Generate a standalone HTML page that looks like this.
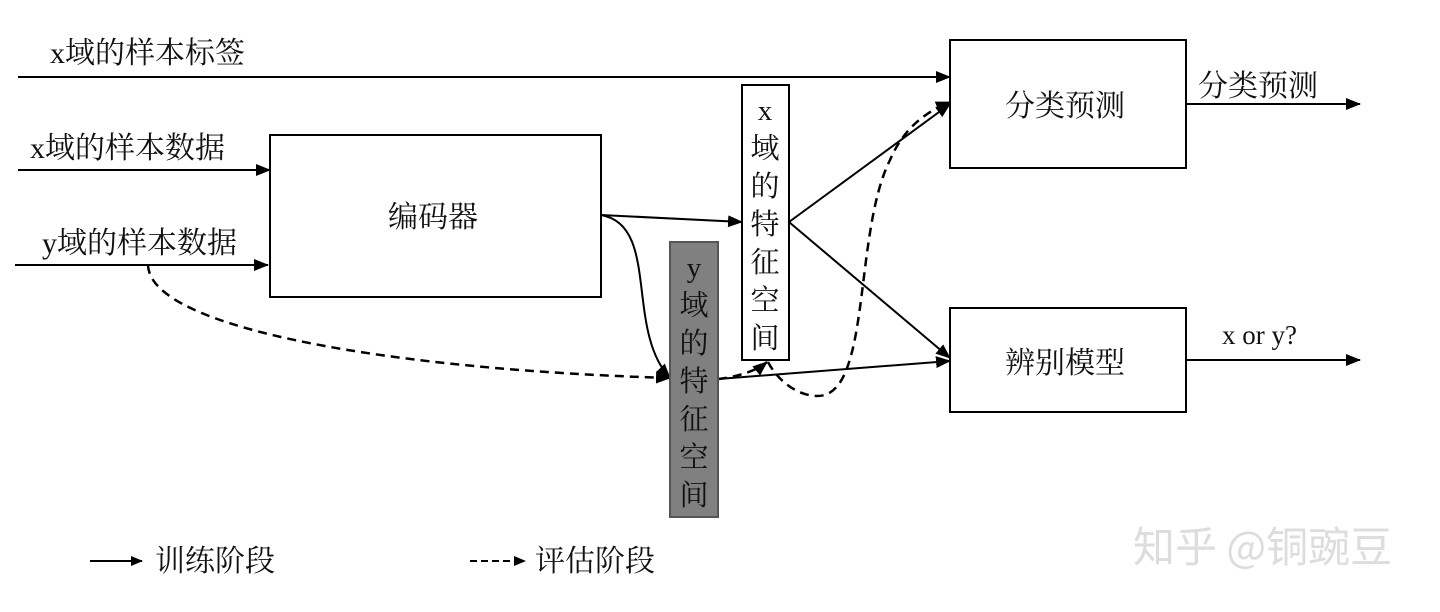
<!DOCTYPE html>
<html><head><meta charset="utf-8"><style>
body{margin:0;background:#fff}
text{font-family:"Liberation Serif","Noto Serif CJK SC","Noto Sans CJK SC",serif;fill:#111}
</style></head><body>
<svg width="1440" height="607" viewBox="0 0 1440 607" xmlns="http://www.w3.org/2000/svg">
<defs><marker id="a" markerWidth="12" markerHeight="10" refX="11" refY="5" orient="auto" markerUnits="userSpaceOnUse"><path d="M0,0 L12,5 L0,10 z" fill="#000"/></marker>
<marker id="b" markerWidth="15" markerHeight="12" refX="14" refY="6" orient="auto" markerUnits="userSpaceOnUse"><path d="M0,0 L15,6 L0,12 z" fill="#000"/></marker></defs>
<g stroke="#000" stroke-width="2" fill="none">
<line x1="18" y1="77" x2="950" y2="77" marker-end="url(#b)"/>
<line x1="18" y1="170" x2="270" y2="170" marker-end="url(#b)"/>
<line x1="15" y1="265" x2="268" y2="265" marker-end="url(#b)"/>
<rect x="270" y="135" width="331" height="162"/>
<rect x="950" y="40" width="236" height="128"/>
<rect x="950" y="308" width="236" height="104"/>
<line x1="1186" y1="104" x2="1360" y2="104" marker-end="url(#b)"/>
<line x1="1186" y1="360" x2="1360" y2="360" marker-end="url(#b)"/>
<line x1="601" y1="215" x2="742" y2="222" marker-end="url(#b)"/>
<path d="M601,215 C660,225 625,330 670,378" marker-end="url(#b)"/>
<line x1="789" y1="222" x2="950" y2="104" marker-end="url(#b)"/>
<line x1="789" y1="222" x2="950" y2="358" marker-end="url(#b)"/>
<line x1="718" y1="379" x2="950" y2="361" marker-end="url(#b)"/>
<g stroke-dasharray="9,6" stroke-width="2.5">
<path d="M148,265 C150,330 400,370 670,378" marker-end="url(#b)"/>
<path d="M718,379 C735,377 755,372 767,362" marker-end="url(#b)"/>
<path d="M768,362 C780,385 805,400 825,395 C870,380 855,230 890,160 C905,125 930,110 950,102" marker-end="url(#b)"/>
</g>
<rect x="742" y="85" width="47" height="275" fill="#fff"/>
<rect x="670" y="242" width="48" height="275" fill="#808080" stroke="#555"/>
<line x1="90" y1="561" x2="142" y2="561" marker-end="url(#a)"/>
<line x1="470" y1="561" x2="525" y2="561" stroke-dasharray="7,4" marker-end="url(#a)"/>
</g>
<g font-size="30">
<text x="50" y="63">x域的样本标签</text>
<text x="30" y="158">x域的样本数据</text>
<text x="42" y="253">y域的样本数据</text>
<text x="388" y="227">编码器</text>
<text x="1005" y="116">分类预测</text>
<text x="1005" y="373">辨别模型</text>
<text x="1198" y="96">分类预测</text>
<text x="1222" y="344" font-family="Liberation Mono,monospace" font-size="27">x or y?</text>
<text x="155" y="571">训练阶段</text>
<text x="535" y="571">评估阶段</text>
</g>
<g font-size="29" text-anchor="middle">
<text x="765" y="120">x</text><text x="765" y="158">域</text><text x="765" y="196">的</text><text x="765" y="234">特</text><text x="765" y="272">征</text><text x="765" y="310">空</text><text x="765" y="348">间</text>
<text x="694" y="277">y</text><text x="694" y="315">域</text><text x="694" y="353">的</text><text x="694" y="391">特</text><text x="694" y="429">征</text><text x="694" y="467">空</text><text x="694" y="505">间</text>
</g>
<text x="1133" y="562" font-size="42" style="fill:#ddd;font-family:'Noto Sans CJK SC',sans-serif">知乎 @铜豌豆</text>
</svg>
</body></html>
